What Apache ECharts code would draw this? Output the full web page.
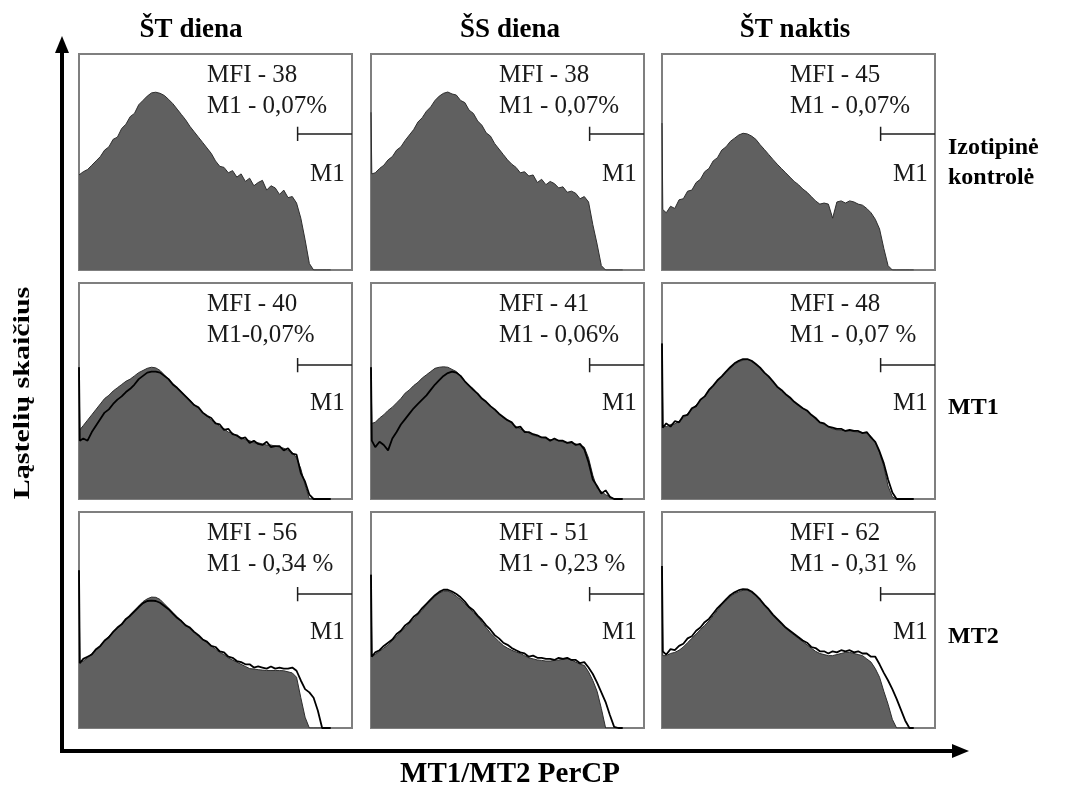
<!DOCTYPE html>
<html><head><meta charset="utf-8">
<script src="https://cdn.jsdelivr.net/npm/echarts@6/dist/echarts.min.js"></script>
<style>html,body{margin:0;padding:0;background:#fff}#c{width:1068px;height:791px}</style>
</head><body><div id="c"></div>
<script>
// ---------- DATA ----------
const channels = [0,3,16,32,48,64,80,96, 112,128,144,160,176,192,208,224, 240,256,272,288,304,320,336,352,
  368,384,400,416,432,448,464,480, 496,512,528,544,560,576,592,608, 624,640,656,672,688,704,720,736,
  752,768,784,800,816,832,848,864, 880,896,912,928,944];

const colTitles = ['ŠT diena', 'ŠS diena', 'ŠT naktis'];
const rowLabels = [['Izotipinė', 'kontrolė'], ['MT1'], ['MT2']];
const mfiLabels = [['MFI - 38','MFI - 38','MFI - 45'],['MFI - 40','MFI - 41','MFI - 48'],['MFI - 56','MFI - 51','MFI - 62']];
const m1Labels = [['M1 - 0,07%','M1 - 0,07%','M1 - 0,07%'],['M1-0,07%','M1 - 0,06%','M1 - 0,07 %'],['M1 - 0,34 %','M1 - 0,23 %','M1 - 0,31 %']];
const gateStart = 820, gateEnd = 1024;
const gateLevel = [63, 62, 62];

// isotype control (grey filled) per panel
const iso11 = [44,44,45.5,46.5,48.5,50.5,52.5,55.5, 57,60.5,61.5,65.5,67.5,71,72.5,76.5, 78.5,80.5,82,82.3,81.8,80.8,79,77,
  74.5,72,69.5,66.5,64,61.5,59,56.5, 54,50.5,48,47.5,45,46,43,44.5, 41,42.5,39,40.5,41.5,37,39,38, 35,37,33.5,34,31,24,14,3, 0,0,0,0,0];
const iso12 = [73,44.5,45,47,48.5,51,52.5,55.5, 57,60,62.5,65,68.5,70.5,73.5,75.5, 78.5,80.5,81.8,82.4,81.5,81,78.5,77.5,
  74,72.5,69,67,63.5,62,58.5,56, 53.5,51,49,47.5,45,45.5,43.5,44, 40.5,42,39.5,41,40,38,38.5,36, 36.5,35.5,33,34,31.5,21,12,2, 0,0,0,0,0];
const iso13 = [68,28,26.5,29.5,28.5,32.5,33,36.5, 37,40.5,42,45.5,47,50.5,52,55.5, 57,59.5,61,62.5,63.3,63,62,60.5,
  58,55.8,53.5,51.2,49,47,45,43, 41,39.5,37.5,36,34,32,30.5,31, 30.5,24,31.5,32,31,32,31.5,30.5, 30,28.5,26.5,23.5,19,10,2,0, 0,0,0,0,0];
const iso21 = [61,32,34,36.5,39,41.5,44,46.5, 48,50,51.5,53,54.5,55.5,57,58.5, 59.5,60.5,61,60.7,59.5,57.5,55.5,53.5,
  51.5,49.5,47.5,45.8,43.5,42,40,38.5, 36.5,35.5,33.5,32.5,31,30.5,29,28.5, 27.5,27,26,26,25.5,25,25,24.5, 24,23.5,22.5,21.5,19,14,6.5,0, 0,0,0,0,0];
const iso22 = [61,35,35.5,37.5,39,41,42.5,44.5, 46.5,49,50.5,52.5,54,56,57.5,59, 60.5,61,61.2,61,60,59,57,54.5,
  52.5,51,48.5,46.5,45,43,41,39.5, 37.5,36.5,35,33.5,32.5,31.5,30.5,29.5, 29,28.5,28,27.5,27.5,27,26.5,26, 25.8,25.5,25,24,19,11,5,3.5, 2,1,0,0,0];
const iso23 = [72,34,33.5,34.5,34.8,36,37.5,39.5, 41.5,43.5,45.5,47.5,50,52.5,54.5,56.5, 58.5,60.5,62.3,63.5,64.3,64.5,63.8,62.5,
  60.5,58.5,56.5,54,52,50,48.3,46.5, 44.8,43.3,42,40.5,38.8,37,35.5,34.5, 33.5,32.5,32,31.8,31.5,31.5,31.2,31, 30.8,30.5,29,26,21.5,15,6,1, 0,0,0,0,0];
const iso31 = [73,30.5,31,32.5,34.5,36,38,40, 42.5,44.5,46,48,50,52.5,54.5,56.5, 58.5,59.8,60.6,60.5,59.5,57.5,55.5,53.5,
  51.5,49.5,47.5,46,44,42.5,41,39.5, 38,36.5,35,34,32.5,31.5,30.5,29.5, 28.5,27.5,27.3,27,26.8,26.6,26.6,26.6, 26.6,26.5,26,25.5,23.5,14,5,0, 0,0,0,0,0];
const iso32 = [71,33.5,34,35.5,37,38.5,40.5,42.5, 44.5,46.5,48.5,50.5,52.5,54.5,57,59, 61,62.5,63.3,63.4,62.5,61,59.5,57.5,
  55.5,53.5,51.5,49,46.5,44,42,40, 38.2,37,36,35.2,34.5,33.5,32.5,32, 31.5,31.3,31,31,31.3,31.5,31.8,32, 31.5,30.5,29.5,29,26,22,17,9, 0,0,0,0,0];
const iso33 = [75,33.5,33.5,34.5,35,36,37.5,39.5, 41.5,43.5,45.5,47.5,49.5,52,54.5,57, 59,60.8,62.2,63,63.8,63.8,62.8,61.2,
  59,56.8,54.5,52,50,48,46.2,44.5, 43,41.5,40,38.5,37,35.5,34.5,34, 33.5,33.5,34,34.5,35,35,34.5,34, 33.5,32,30.5,27.5,23.5,17,11,4, 0,0,0,0,0];

// stained samples (black outline): MT1 row, MT2 row
const mt1_21 = [61,27,28,27,31,34,37,40, 41.5,44,46,47.5,49.5,51,53,55.5, 57,58.5,59,59,58.5,57,55.5,53,
  51.5,49.5,47.5,45.5,43.5,42.5,40,38.5, 37.5,35,34.5,32,32.5,30,29.5,28, 28.5,26,27,25.5,25,26.5,24,24.5, 24.5,22.5,23.5,21,20.5,12,8,2, 0,0,0,0,0];
const mt1_22 = [61,27,24,26.5,25,22.5,28,31, 34.5,37,39.5,42,44,46,48,50.5, 53,55,57,58.3,59,58.5,57,54.5,
  52.5,50.5,48.8,46.5,45,43,41.5,39.5, 38,36.5,35.5,33,33.5,31,31,30, 29.5,28.5,28.5,27,28,27,27,26, 26.5,25,25.5,23,17,9,6,2.5, 4,1,0,0,0];
const mt1_23 = [72,33,35,33.5,36,35.5,38.5,39, 42,43,46,47.5,50.5,52.5,55,56.8, 59,61,62.8,64,64.8,64.8,64,62.5,
  60.8,58.5,56.8,54.5,52,50.5,48.5,47, 45,43.5,42,41,39,37.5,35.5,35, 33.5,33,32.5,32.5,31.5,32,31.5,31.5, 30.5,31,28.5,26.5,22,16.5,9,3, 0,0,0,0,0];
const mt2_31 = [73,30,32,33,34,36.5,38,40.5, 42,44.5,46.5,48,50.5,52,54,56, 57.8,58.8,59,58.8,58,56.5,55,53,
  51,49.5,47.5,46.5,44.5,43,41,40, 38,37.5,35.5,35,33,32.5,31,30.5, 29.5,29.5,28,28.5,28,27.5,28.5,27.5, 28,27.5,27.5,28,26.5,22,18,16.5, 14,8,0,0,0];
const mt2_32 = [71,33,35,36,38,39.5,41,43.5, 45,47.5,49,51.5,53,55.5,57.5,59.5, 61.5,63,64,64,63.2,62,60.5,58.5,
  56,54.5,52,50,47.5,45.5,43,41.5, 39.5,38.5,37,36,35,34.5,33,33.5, 32.5,32.5,32,32,31.5,32.5,32,32.5, 31.5,31.5,30,30.5,28,25,21,16.5, 12,6,0.5,0,0];
const mt2_33 = [75,35.5,34,36.5,36,38,39,41.5, 42.5,45,46.5,49,50.5,53,55.5,57.5, 59.5,61.5,62.8,63.8,64.3,64.2,63.2,61.5,
  59.5,57,55,52.5,50.5,48.5,46.5,45, 43.5,42,40.5,39.5,37.5,37,35.5,35.5, 34.5,35.5,35,36,35.5,36,35,35.5, 34.5,34.5,33,33,29.5,25.5,22,18, 13.5,8.5,3.5,0,0];

const isoData = [[iso11, iso12, iso13], [iso21, iso22, iso23], [iso31, iso32, iso33]];
const stainData = [[null, null, null], [mt1_21, mt1_22, mt1_23], [mt2_31, mt2_32, mt2_33]];

// ---------- LAYOUT ----------
const colLeft = [79, 371, 662], rowTop = [54, 283, 512];
const PW = 273, PH = 216;
const SERIF = '"Liberation Serif", "Times New Roman", serif';

const grids = [], xAxes = [], yAxes = [], series = [], graphics = [];
const pair = (arr) => channels.map((x, k) => [x, arr[k]]);

for (let r = 0; r < 3; r++) {
  for (let c = 0; c < 3; c++) {
    const i = r * 3 + c;
    grids.push({left: colLeft[c], top: rowTop[r], width: PW, height: PH, show: true,
      borderColor: '#7f7f7f', borderWidth: 2, backgroundColor: '#fff'});
    xAxes.push({gridIndex: i, type: 'value', min: 0, max: 1024, show: false});
    yAxes.push({gridIndex: i, type: 'value', min: 0, max: 100, show: false});
    series.push({type: 'line', xAxisIndex: i, yAxisIndex: i, data: pair(isoData[r][c]), symbol: 'none',
      silent: true, z: 2, lineStyle: {color: '#2e2e2e', width: 1}, areaStyle: {color: '#606060', opacity: 1}});
    if (stainData[r][c]) {
      series.push({type: 'line', xAxisIndex: i, yAxisIndex: i, data: pair(stainData[r][c]), symbol: 'none',
        silent: true, z: 3, lineStyle: {color: '#000', width: 1.8}});
    }
    const g = gateLevel[r];
    series.push({type: 'line', xAxisIndex: i, yAxisIndex: i, symbol: 'none', silent: true, z: 4,
      data: [[gateStart, g - 3.3], [gateStart, g + 3.3], [gateStart, g], [gateEnd, g]],
      lineStyle: {color: '#1e1e1e', width: 1.5}});
    const L = colLeft[c], T = rowTop[r];
    graphics.push({type: 'text', x: L + 128, y: T + 21, style: {text: mfiLabels[r][c], font: '25px ' + SERIF, fill: '#1a1a1a', textAlign: 'left', textVerticalAlign: 'middle'}});
    graphics.push({type: 'text', x: L + 128, y: T + 52, style: {text: m1Labels[r][c], font: '25px ' + SERIF, fill: '#1a1a1a', textAlign: 'left', textVerticalAlign: 'middle'}});
    graphics.push({type: 'text', x: L + 231, y: T + 120, style: {text: 'M1', font: '25px ' + SERIF, fill: '#1a1a1a', textAlign: 'left', textVerticalAlign: 'middle'}});
  }
}

const titleX = [191, 510, 795];
colTitles.forEach((t, c) => graphics.push({type: 'text', x: titleX[c], y: 30,
  style: {text: t, font: 'bold 27px ' + SERIF, fill: '#000', textAlign: 'center', textVerticalAlign: 'middle'}}));
const rowLabelY = [[148, 178], [408], [637]];
rowLabels.forEach((lines, r) => lines.forEach((t, k) => graphics.push({type: 'text', x: 948, y: rowLabelY[r][k],
  style: {text: t, font: 'bold 24px ' + SERIF, fill: '#000', textAlign: 'left', textVerticalAlign: 'middle'}})));
graphics.push({type: 'line', shape: {x1: 62, y1: 753, x2: 62, y2: 50}, style: {stroke: '#000', lineWidth: 4}});
graphics.push({type: 'polygon', shape: {points: [[62, 36], [55, 53], [69, 53]]}, style: {fill: '#000'}});
graphics.push({type: 'line', shape: {x1: 60, y1: 751, x2: 955, y2: 751}, style: {stroke: '#000', lineWidth: 4}});
graphics.push({type: 'polygon', shape: {points: [[969, 751], [952, 744], [952, 758]]}, style: {fill: '#000'}});
graphics.push({type: 'text', x: 510, y: 775, style: {text: 'MT1/MT2 PerCP', font: 'bold 29px ' + SERIF, fill: '#000', textAlign: 'center', textVerticalAlign: 'middle'}});
graphics.push({type: 'text', x: 23, y: 393, rotation: Math.PI / 2, scaleY: 0.8, style: {text: 'Ląstelių skaičius', font: 'bold 30px ' + SERIF, fill: '#000', textAlign: 'center', textVerticalAlign: 'middle'}});

const chart = echarts.init(document.getElementById('c'), null, {renderer: 'canvas'});
chart.setOption({animation: false, backgroundColor: '#fff', grid: grids, xAxis: xAxes, yAxis: yAxes, series: series, graphic: graphics});
</script>
</body></html>
